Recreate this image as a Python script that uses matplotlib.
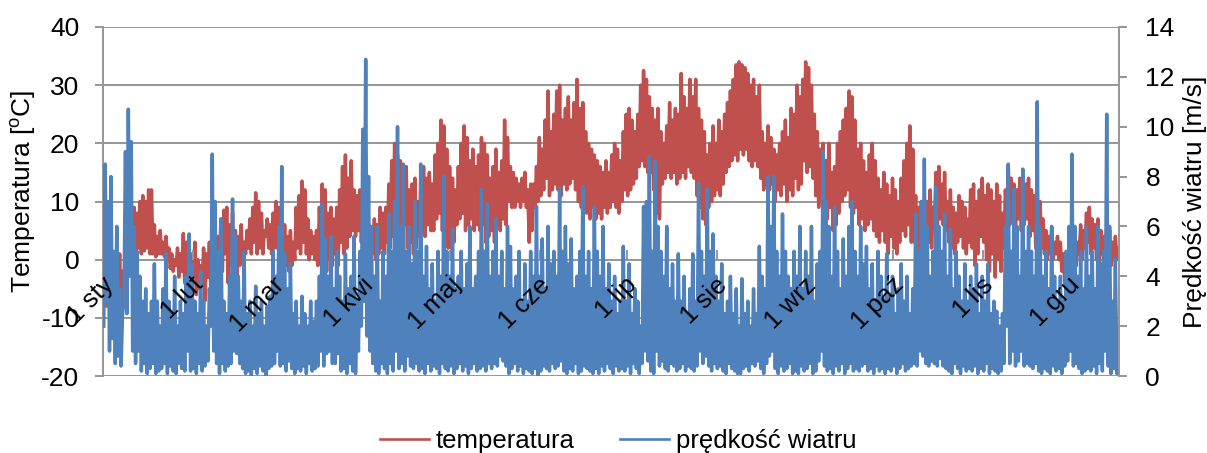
import numpy as np
import matplotlib
matplotlib.use("Agg")
import matplotlib.pyplot as plt
from matplotlib.lines import Line2D
from matplotlib.transforms import ScaledTranslation

plt.rcParams["font.family"] = ["Liberation Sans", "DejaVu Sans"]
plt.rcParams["axes.unicode_minus"] = False

# Calendar axis: day of year at which each month starts
month_days = [0, 31, 59, 90, 120, 151, 181, 212, 243, 273, 304, 334]
month_labels = ["1 sty", "1 lut", "1 mar", "1 kwi", "1 maj", "1 cze",
                "1 lip", "1 sie", "1 wrz", "1 paź", "1 lis", "1 gru"]

# Daily minimum / maximum air temperature [°C]
temp_min = [
    -6, -8, -5, -7, -5, -7, -8, -4, 0, 2,
    1, 0.5, 2, 1, 1.5, 2, 1, 1, 0.5, 1,
    1, 0.5, 0, -1.5, -2, -1, -3, -2, -4, -5,
    -4, -3, -6, -5, -4, -7, -3, -5, -4, -2,
    0, -2, 1, -4, -1, 0, -3, -1, 0, 1,
    2, 1, 3, 1, 2, 1, 4, 2, 1, 2,
    2, 0, -2, -1, -2, -1, 0, 2, 1, 3,
    1, 0, 1, 0, -1, 2, 1, -2, 0, -1,
    1, -1, 3, 1, 2, 4, 5, 4, 5, 3,
    0, -2, -1, 1, 0, 1, 2, 1, 3, 2,
    4, 3, 5, 4, 6, 2, 3, 1, 2, 4,
    5, 4, 6, 5, 5, 7, 8, 5, 3, 2,
    2, 3, 6, 7, 8, 5, 6, 7, 5, 6,
    5, 6, 3, 4, 5, 3, 6, 5, 7, 6,
    10, 9, 9, 10, 9, 10, 9, 3, 5, 9,
    10, 11, 12, 14, 11, 12, 13, 12, 11, 13,
    12, 13, 14, 12, 10, 9, 8, 8, 7, 9,
    7, 8, 7, 9, 8, 9, 10, 9, 8, 10,
    12, 11, 12, 13, 14, 16, 17, 16, 15, 15,
    12, 8, 7, 13, 14, 15, 14, 15, 13, 14,
    15, 14, 16, 15, 14, 11, 9, 7, 6, 9,
    10, 11, 12, 11, 13, 15, 16, 17, 18, 17,
    19, 18, 19, 17, 16, 17, 16, 14, 12, 13,
    12, 13, 10, 12, 11, 13, 10, 12, 11, 14,
    12, 13, 17, 15, 16, 14, 11, 9, 10, 8,
    7, 9, 5, 6, 8, 10, 11, 12, 9, 8,
    9, 6, 7, 5, 6, 7, 5, 4, 3, 5,
    3, 1, 4, 2, 1, 3, 5, 4, 6, 3,
    3, 1, 2, 0, 1, 3, 2, 6, 5, 7,
    6, 5, 3, 2, 1, 3, 4, 2, 1, 3,
    2, -1, 1, 4, 3, 0, -2, 1, -3, 0,
    -2, 2, 7, 6, 8, 6, 7, 5, 6, 7,
    4, 5, 2, 3, 2, 1, 0, 1, 0, 1,
    0, -2, -4, -6, -5, -3, -1, 1, 0, 2,
    3, 1, 2, 0, -1, 1, -2, 0, -1, 0, 0,
]
temp_max = [
    2, 1, 3, 0, -1, 1, -2, 2, 6, 10,
    9, 8, 10, 11, 10, 12, 12, 6, 4, 5,
    3, 4, 2, 1, 0, 2, 1, 4.5, 3, 2,
    1, 3, 0, -1, 2, 1, 3, 2, 0, 4,
    7, 8.5, 9, 6, 8, 5, 4, 6, 3, 5,
    7, 9, 11.5, 10, 8, 5, 7, 6, 8, 10,
    9, 7, 6, 4, 5, 3, 9, 11, 13.5, 12,
    7, 5, 4, 5, 9, 13, 12, 8, 9, 7,
    9, 12, 16, 18, 14, 17, 12, 11, 12, 9,
    7, 6, 5, 7, 6, 9, 8, 9, 13, 17,
    20, 18, 17, 14, 16, 12, 13, 14, 10, 12,
    16, 14, 15, 13, 18, 20, 24, 23, 19, 16,
    14, 12, 16, 20, 23, 21, 17, 19, 16, 18,
    21, 20, 18, 14, 16, 19, 15, 17, 24, 21,
    16, 15, 14, 13, 14, 15, 12, 13, 13, 16,
    21, 19, 24, 29, 22, 25, 29, 30, 24, 26,
    28, 24, 27, 31, 26, 27, 22, 20, 19, 18,
    17, 16, 15, 17, 15, 18, 20, 19, 17, 22,
    25, 26, 24, 22, 25, 30, 32.5, 31, 28, 26,
    24, 26, 22, 20, 23, 27, 24, 26, 25, 32,
    28, 26, 31, 28, 31, 26, 24, 22, 18, 20,
    23, 20, 24, 22, 25, 27, 29, 31, 33.5, 34,
    33.5, 33, 32, 30, 31, 28, 30, 22, 20, 23,
    21, 19, 18, 20, 22, 24, 21, 26, 25, 30,
    28, 31, 34, 33, 30, 25, 22, 19, 20, 17,
    20, 15, 16, 20, 22, 24, 26, 29, 28, 24,
    19, 20, 17, 15, 18, 20, 17, 14, 12, 15,
    13, 11, 14, 12, 10, 14, 17, 20, 23, 19,
    11, 9, 10, 8, 10, 12, 9, 15, 16, 13,
    15, 10, 12, 9, 8, 11, 10, 9, 7, 12,
    13, 10, 12, 14, 11, 13, 12, 10, 13, 11,
    8, 12, 16, 14, 13, 12, 14, 11, 13, 14,
    12, 11, 9, 10, 7, 5, 4, 5.5, 3, 4,
    3, 1, 0, -1, -2, 1, 3, 6, 5, 8,
    9, 7, 6, 7, 5, 4, 6, 5, 3, 4, 2,
]

# Daily low / high wind speed [m/s]
wind_low = [
    2, 3, 1, 1.5, 0.5, 0.8, 0.4, 3, 2.5, 4,
    1, 0.5, 1, 0.2, 0.5, 0.1, 0.3, 0.5, 0.1, 0.2,
    0.3, 0.5, 0.1, 0.4, 0.2, 0.1, 0.5, 0.3, 0.2, 1,
    0.2, 0.3, 0.1, 0.5, 0.2, 0.4, 0.6, 2, 1, 0.5,
    0.1, 0.5, 0.2, 0.4, 0.5, 1, 0.9, 0.5, 0.3, 0.1,
    0.2, 0, 0.3, 0.1, 0.4, 0.2, 0, 0.3, 0.4, 0.5,
    1, 0.4, 0.5, 0.2, 0.6, 0.3, 0.1, 0.3, 0.2, 0.4,
    0.1, 0.5, 0.2, 0.3, 0.4, 1, 0.4, 0.9, 1, 0.5,
    0.5, 0.9, 0.2, 0.3, 0.1, 0.5, 0.2, 0.1, 1, 2,
    3, 1.6, 1, 0.5, 0.2, 0.1, 0.5, 0.3, 0.1, 0.5,
    0.2, 1, 0.3, 0.5, 0.2, 0.8, 0.4, 0.3, 0.5, 0.2,
    0.3, 0.1, 0.5, 0.2, 0.4, 0.3, 0.1, 0.5, 0.3, 0.2,
    0.4, 0.1, 0.3, 0.5, 0.2, 0.4, 0.1, 0.3, 0.5, 0.2,
    0.3, 0.4, 0.2, 0.5, 0.3, 0.5, 0.4, 0.8, 0.6, 0.4,
    0.1, 0.3, 0.5, 0.2, 0.4, 0.1, 0.3, 0.2, 0.1, 0.3,
    0, 0.2, 0.4, 0.3, 0.2, 0.5, 0.3, 0.4, 0.6, 0.2,
    0.1, 0.3, 0.2, 0.5, 0.1, 0.2, 0.4, 0.3, 0.2, 0.1,
    0.3, 0.1, 0.4, 0.2, 0.5, 0.3, 0.1, 0.4, 0.2, 0.3,
    0.2, 0.4, 0.1, 0.5, 0.3, 0.1, 0.5, 1, 0.6, 0.2,
    0.1, 1, 0.4, 0.6, 0.3, 0.2, 0.5, 0.4, 0.2, 0.3,
    0.5, 0.2, 0.4, 0.3, 0.2, 0.4, 1, 0.5, 0.8, 0.4,
    0.2, 0.5, 0.3, 0.4, 0.2, 0.1, 0.5, 0.3, 0.2, 0.1,
    0.1, 0.3, 0.4, 0.2, 0.5, 0.4, 0.6, 0.3, 0.1, 0.5,
    0.8, 1, 0.3, 0.1, 0.4, 0.2, 0.3, 0.5, 0.1, 0.2,
    0.1, 0.4, 0.2, 0.3, 0.5, 0.1, 0.2, 0.6, 1, 0.4,
    0.2, 0.3, 0.1, 0.4, 0.2, 0.5, 0.1, 0.3, 0.5, 0.2,
    0.3, 0.2, 0.4, 0.5, 0.2, 0.3, 0.1, 0.4, 0.2, 0.3,
    0.1, 0.3, 0.2, 0.4, 0.1, 0.3, 0.5, 0.2, 0.3, 0.4,
    0.5, 0.4, 1, 0.8, 0.5, 0.4, 0.6, 0.5, 0.4, 0.7,
    0.4, 0.3, 0.2, 0.1, 0.5, 0.3, 0.1, 0.4, 0.2, 0.3,
    0.2, 0.4, 0.1, 0.3, 0.2, 0.5, 0.1, 0.3, 0.2, 0.1,
    0.2, 0.5, 2, 0.5, 1, 0.4, 0.6, 1, 0.4, 0.5,
    0.4, 0.3, 0.5, 0.2, 0.1, 0.3, 0.2, 0.1, 0.4, 0.2,
    0.3, 0.1, 0.4, 0.6, 1, 0.4, 0.5, 0.3, 0.1, 0.2,
    0.3, 0.2, 0.4, 0.1, 0.5, 0.2, 1, 0.4, 0.1, 0.3, 0.1,
]
wind_high = [
    8.5, 7, 8, 5, 6, 3.5, 2.5, 9, 10.7, 9.4,
    6, 5, 4, 3, 3.5, 2.5, 3, 4.5, 3, 2,
    3.5, 4.9, 3, 2.5, 4, 2, 3, 2.5, 4, 5.7,
    4.5, 3, 2.5, 4.2, 3, 2, 3.5, 8.9, 7, 5,
    6.3, 3, 2.5, 4, 7.1, 5.6, 4, 3, 5, 2.5,
    3, 2, 3.6, 2.5, 3, 2, 2.8, 3.2, 5, 4,
    6, 8.4, 4.9, 3.5, 4.5, 2.5, 3, 2, 3.2, 2.5,
    2, 3, 2.2, 3, 4, 6.9, 5.5, 4, 5.6, 3.5,
    5, 4, 3, 4.9, 3.5, 4, 5.6, 3, 5, 9.9,
    12.7, 8, 6, 4, 6, 3, 5, 4, 6.5, 5,
    7, 10, 6, 8.5, 5, 6, 4.5, 7, 5, 8.5,
    4, 5.2, 3.5, 4.5, 3, 5, 4, 8, 5, 4,
    5.9, 3.5, 4, 5, 3.5, 4.5, 6, 3.5, 4, 5,
    7.5, 5, 6.9, 4, 5, 6.3, 4, 5, 3.5, 6,
    5.2, 3.5, 4, 5, 3, 4.5, 3, 5, 4, 6.8,
    4, 5.5, 3.5, 6, 4.5, 5, 4, 7.5, 5, 6,
    4.5, 5.5, 3.5, 4, 5, 7.6, 4, 5, 3.5, 6.8,
    5, 4, 6, 3.5, 4.5, 3, 4, 2.5, 3, 5.2,
    3, 4.5, 2.5, 3.5, 3, 2, 6.8, 7, 8.8, 5,
    8.6, 6, 5, 4, 6, 3.5, 4.5, 3, 4.9, 3,
    4, 2.5, 3.5, 4.9, 3, 7.7, 5, 4, 7.5, 5,
    5.7, 4, 3, 4.5, 2.5, 3, 4, 2.5, 3.5, 2,
    3.9, 2.5, 3, 2, 3.5, 2.5, 5.2, 4, 3.5, 8,
    6, 8, 5, 4, 6.5, 5, 4, 3.5, 5, 4,
    6, 3.5, 5, 4, 6, 3, 4.5, 5, 9, 7,
    6, 4, 6.8, 5, 3.5, 5.5, 4, 6, 7, 5,
    4, 6, 4.5, 5.2, 3.5, 4.5, 3, 5, 4, 3,
    4.9, 3, 4, 2.5, 3.5, 4.5, 3, 4, 2.5, 3.5,
    6.5, 5, 7, 8.7, 6, 4, 5, 7.6, 6, 5,
    6.5, 4, 5.9, 3.5, 5, 4, 3, 4.5, 3, 4,
    3.5, 4.5, 2.5, 4, 3, 4.5, 2.5, 3, 2.6, 2,
    2.5, 6, 8.5, 5, 7.5, 6, 4, 8.3, 5, 6,
    5, 4, 11, 6, 4, 5, 3.5, 6, 4, 3,
    4, 3, 5, 6, 8.9, 6, 4, 5, 3.5, 6,
    4, 5, 3.5, 6, 4.5, 5, 10.5, 6, 3, 4.7, 2,
]

RED = "#C0504D"
BLUE = "#4F81BD"
GRID = "#969696"


def daily_trace(low, high):
    """Interleave the daily extremes: low in the night, high in the afternoon."""
    vals = np.column_stack([low, high]).ravel()
    t = np.arange(vals.size) * 0.5 + 0.25
    return t, vals


t_temp, temp = daily_trace(temp_min, temp_max)
t_wind, wind = daily_trace(wind_low, wind_high)

fig = plt.figure(figsize=(12.07, 4.53), dpi=100)
ax = fig.add_axes([103 / 1207, 1 - 376 / 453, 1016 / 1207, 349 / 453])

# Temperature (left axis)
ax.plot(t_temp, temp, color=RED, lw=2.5, zorder=2)
ax.set_xlim(0, len(temp_min))
ax.set_ylim(-20, 40)
ax.set_yticks(range(-20, 41, 10))
ax.grid(axis="y", color=GRID, lw=1.4)
ax.set_axisbelow(True)
for side in ("top", "bottom", "right"):
    ax.spines[side].set_visible(False)
ax.spines["left"].set_color(GRID)
ax.spines["left"].set_linewidth(1.4)
ax.tick_params(axis="y", direction="out", length=6, width=1.4, color=GRID,
               labelsize=19, pad=11)
ax.tick_params(axis="x", bottom=False, labelbottom=False)

# Wind speed (right axis)
ax2 = ax.twinx()
ax2.plot(t_wind, wind, color=BLUE, lw=2.5, zorder=2)
ax2.set_ylim(0, 14)
ax2.set_yticks(range(0, 15, 2))
for side in ("top", "bottom", "left"):
    ax2.spines[side].set_visible(False)
ax2.spines["right"].set_color(GRID)
ax2.spines["right"].set_linewidth(1.4)
ax2.tick_params(axis="y", direction="out", length=6, width=1.4, color=GRID,
                labelsize=19, pad=13)

# Category axis crossing at 0 °C (one third of the height)
ax2.xaxis.set_visible(True)
ax2.spines["bottom"].set_position(("axes", 1 / 3))
ax2.set_xticks(month_days)
ax2.tick_params(axis="x", direction="in", length=7, width=1.4, color=GRID,
                labelbottom=False)
label_shift = ScaledTranslation(-2 / 100, -13 / 100, fig.dpi_scale_trans)
for d, name in zip(month_days, month_labels):
    ax2.text(d, 1 / 3, name, transform=ax2.get_xaxis_transform() + label_shift,
             rotation=45, rotation_mode="anchor", ha="right", va="top",
             fontsize=18.5, color="black", zorder=5)

# Axis titles
fig.text(24 / 1207, 1 - 191 / 453, r"Temperatura [$\mathregular{^{o}}$C]",
         rotation=90, ha="center", va="center", fontsize=19)
fig.text(1195 / 1207, 1 - 202 / 453, "Prędkość wiatru [m/s]",
         rotation=90, ha="center", va="center", fontsize=19)

# Legend
handles = [Line2D([], [], color=RED, lw=1.9), Line2D([], [], color=BLUE, lw=1.9)]
fig.legend(handles, ["temperatura", "prędkość wiatru"], loc="center",
           bbox_to_anchor=(618 / 1207, 1 - 441 / 453), ncol=2, frameon=False,
           fontsize=18.5, handlelength=1.9, handletextpad=0.25, columnspacing=1.8)

fig.savefig("out.png", dpi=100)
